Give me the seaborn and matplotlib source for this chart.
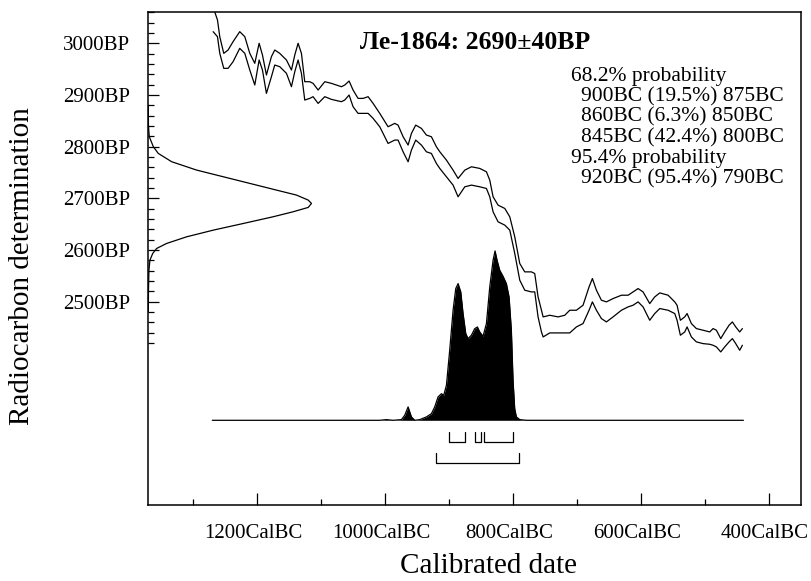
import numpy as np
import pandas as pd
import matplotlib
matplotlib.use("Agg")
import matplotlib.pyplot as plt
import matplotlib.transforms as mtransforms
from matplotlib.ticker import FixedLocator
import seaborn as sns

# ---------------- data ----------------
# calibration curve: calendar years BC with upper / lower radiocarbon bounds (BP)
curve_year_bc = [1268.7, 1261.9, 1258.3, 1252.1, 1245.3, 1237.5, 1227.1, 1219.2, 1211.4, 1203.6,
                 1196.8, 1191.6, 1185.4, 1177.6, 1172.4, 1164.6, 1154.1, 1146.3, 1141.1, 1135.9,
                 1130.7, 1125.5, 1117.7, 1112.5, 1104.6, 1094.2, 1083.8, 1068.2, 1063.0, 1056.2,
                 1050.0, 1042.2, 1034.3, 1026.5, 1018.7, 1008.3, 995.3, 984.9, 979.7, 971.8,
                 964.0, 958.8, 952.1, 943.2, 935.4, 927.6, 919.8,
                 914.5, 904.1, 893.7, 885.9, 875.4, 865.0, 852.0, 841.6, 836.4, 831.2,
                 823.4, 812.9, 805.1, 797.3, 789.5, 781.7, 771.3, 766.1, 760.9, 755.6,
                 753.0, 742.6, 729.6, 719.2, 711.4, 701.0, 690.6, 681.2, 676.0, 669.7,
                 661.9, 654.1, 643.7, 630.6, 620.2, 612.4, 604.6, 596.8, 586.4, 578.6,
                 570.7, 557.7, 547.3, 543.7, 538.5, 531.7, 528.0, 521.3, 513.5, 503.0,
                 492.6, 487.4, 482.2, 475.4, 469.2, 462.4, 457.2, 452.0, 445.8, 441.6]
curve_upper_bp = [3070.0, 3045.1, 3012.8, 2980.5, 2987.0, 3003.2, 3022.5, 3012.8, 2980.5, 2961.2,
                  3000.0, 2977.3, 2938.6, 2974.1, 2987.0, 2980.5, 2967.6, 2948.2, 2977.3, 3000.0,
                  2980.5, 2925.6, 2925.6, 2922.4, 2909.5, 2925.6, 2922.4, 2915.9, 2919.2, 2926.9,
                  2909.5, 2893.3, 2893.3, 2896.6, 2883.6, 2864.3, 2838.4, 2844.9, 2841.6, 2819.1,
                  2802.9, 2825.5, 2841.6, 2835.2, 2822.3, 2819.1, 2799.7,
                  2790.0, 2773.8, 2754.4, 2738.3, 2754.4, 2760.9, 2757.7, 2751.2, 2735.1, 2702.8,
                  2686.6, 2680.2, 2664.0, 2625.2, 2573.6, 2557.4, 2557.4, 2554.2, 2509.0, 2483.1,
                  2470.2, 2473.4, 2470.2, 2473.4, 2483.1, 2483.1, 2492.8, 2528.3, 2544.5, 2521.9,
                  2502.5, 2499.3, 2505.7, 2512.2, 2512.2, 2518.6, 2525.1, 2518.6, 2496.0, 2508.9,
                  2516.7, 2512.2, 2499.3, 2492.8, 2463.7, 2470.2, 2476.7, 2457.3, 2447.6, 2444.4,
                  2441.1, 2447.6, 2444.4, 2428.2, 2441.1, 2454.1, 2460.5, 2450.8, 2441.1, 2447.6]
curve_lower_bp = [3022.5, 3012.8, 2980.5, 2951.5, 2951.5, 2964.4, 2990.2, 2980.5, 2948.2, 2919.2,
                  2967.6, 2948.2, 2903.0, 2935.3, 2957.9, 2954.7, 2941.8, 2915.9, 2945.0, 2967.6,
                  2941.8, 2890.1, 2893.3, 2896.6, 2883.6, 2896.6, 2891.4, 2886.9, 2890.1, 2899.8,
                  2877.2, 2864.3, 2864.3, 2864.3, 2854.6, 2838.4, 2806.1, 2812.6, 2812.6, 2789.9,
                  2770.6, 2793.2, 2812.6, 2802.9, 2789.9, 2786.7, 2767.4,
                  2757.7, 2741.5, 2725.4, 2702.8, 2722.1, 2725.4, 2722.1, 2718.9, 2702.8, 2673.7,
                  2654.3, 2647.9, 2638.2, 2592.9, 2541.3, 2521.9, 2518.6, 2518.6, 2470.2, 2441.1,
                  2431.4, 2439.2, 2439.2, 2439.2, 2439.2, 2450.8, 2457.3, 2483.1, 2499.3, 2483.1,
                  2467.0, 2460.5, 2470.2, 2483.1, 2489.6, 2492.8, 2499.3, 2489.6, 2463.7, 2476.7,
                  2486.4, 2483.1, 2476.7, 2463.7, 2434.7, 2441.1, 2450.8, 2431.4, 2421.8, 2418.5,
                  2417.2, 2415.3, 2412.1, 2402.4, 2412.1, 2421.8, 2428.2, 2418.5, 2405.6, 2415.3]

# radiocarbon measurement distribution (relative density vs BP)
date_bp = [2880, 2840, 2819.1, 2799.7, 2786.8, 2770.7, 2754.5, 2741.6, 2728.7, 2715.7, 2706.1,
           2696.4, 2689.9, 2682.2, 2673.8, 2664.1, 2651.1, 2638.2, 2625.3, 2612.4,
           2602.7, 2593.0, 2580.1, 2560.7, 2520, 2480]
date_density = [0.0, 0.001, 0.006, 0.031, 0.061, 0.143, 0.296, 0.459, 0.622, 0.786, 0.908,
                0.980, 1.0, 0.980, 0.888, 0.765, 0.582, 0.398, 0.235, 0.112,
                0.051, 0.027, 0.010, 0.004, 0.001, 0.0]

# calibrated probability distribution (relative)
post_year_bc = [1270, 1008.3, 997.9, 987.5, 974.4, 969.2, 964.0, 958.8, 953.6, 945.8, 935.4,
                927.6, 922.4, 917.2, 911.9, 908.3, 904.1, 899.0, 893.7, 889.5, 885.9,
                881.7, 878.1, 873.9, 870.3, 865.1, 859.9, 855.7, 852.1, 846.9, 841.6,
                836.4, 831.2, 828.1, 825.0, 820.8, 815.6, 810.4, 806.2, 802.6, 800.0,
                797.4, 794.8, 789.5, 779.1, 440]
post_prob = [0.0, 0.0, 0.004, 0.0, 0.004, 0.030, 0.079, 0.020, 0.0, 0.004, 0.020,
             0.039, 0.079, 0.138, 0.157, 0.148, 0.207, 0.413, 0.650, 0.778, 0.807,
             0.758, 0.630, 0.512, 0.482, 0.502, 0.541, 0.551, 0.522, 0.496, 0.571,
             0.787, 0.945, 1.0, 0.945, 0.886, 0.850, 0.807, 0.728, 0.531, 0.236,
             0.069, 0.020, 0.004, 0.0, 0.0]

range68_from_bc = [900, 860, 845]
range68_to_bc = [875, 850, 800]
range95_from_bc = [920]
range95_to_bc = [790]

x_major_bc = [1200, 1000, 800, 600, 400]
x_minor_bc = [1300, 1100, 900, 700, 500]
y_major_bp = [2500, 2600, 2700, 2800, 2900, 3000]

title_text = "Ле-1864: 2690±40BP"
prob_lines = ["68.2% probability", "900BC (19.5%) 875BC", "860BC (6.3%) 850BC",
              "845BC (42.4%) 800BC", "95.4% probability", "920BC (95.4%) 790BC"]
prob_indent = [0, 1, 1, 1, 0, 1]

# ---------------- style ----------------
sns.set_theme(style="ticks")
plt.rcParams['font.family'] = ['Liberation Serif', 'DejaVu Serif']
plt.rcParams['text.color'] = 'black'

fig = plt.figure(figsize=(8.11, 5.81), dpi=100)
ax = fig.add_axes([148.3 / 811, 1 - 505 / 581, (801 - 148.3) / 811, (505 - 12.3) / 581])

XMIN, XMAX = -1370, -350
YMIN, YMAX = 2106, 3060

curve = pd.DataFrame({"x": [-v for v in curve_year_bc], "upper": curve_upper_bp, "lower": curve_lower_bp})
sns.lineplot(data=curve, x="x", y="upper", sort=False, estimator=None, color="black", lw=0.9, ax=ax)
sns.lineplot(data=curve, x="x", y="lower", sort=False, estimator=None, color="black", lw=0.9, ax=ax)

# measurement curve on the left axis
date_width = 255
dd = pd.DataFrame({"x": [XMIN + d * date_width for d in date_density], "y": date_bp})
sns.lineplot(data=dd, x="x", y="y", sort=False, estimator=None, color="black", lw=0.9, ax=ax)

# calibrated distribution
base = 2270
height = 328
px = np.array([-v for v in post_year_bc])
py = base + np.array(post_prob) * height
ax.fill_between(px, base, py, color="black", lw=0)
sns.lineplot(x=px, y=py, sort=False, estimator=None, color="black", lw=0.9, ax=ax)

# range brackets
def bracket(a, b, top, bot):
    ax.plot([-a, -a, -b, -b], [top, bot, bot, top], color="black", lw=0.9)

for a, b in zip(range68_from_bc, range68_to_bc):
    bracket(a, b, 2247, 2228)
for a, b in zip(range95_from_bc, range95_to_bc):
    bracket(a, b, 2207, 2187)

ax.set_xlim(XMIN, XMAX)
ax.set_ylim(YMIN, YMAX)
ax.set_xlabel("")
ax.set_ylabel("")

ax.xaxis.set_major_locator(FixedLocator([-v for v in x_major_bc]))
ax.xaxis.set_minor_locator(FixedLocator([-v for v in x_minor_bc]))
ax.set_xticklabels([f"{v}CalBC" for v in x_major_bc])
ax.yaxis.set_major_locator(FixedLocator(y_major_bp))
ax.yaxis.set_minor_locator(FixedLocator([v for v in range(2420, 3061, 20) if v not in y_major_bp]))
ax.set_yticklabels([f"{v}BP" for v in y_major_bp])

ax.tick_params(axis="both", which="both", direction="in", color="black", width=0.9,
               labelsize=15, labelcolor="black")
ax.tick_params(axis="y", which="major", length=8, pad=13)
ax.tick_params(axis="y", which="minor", length=4.3)
ax.tick_params(axis="x", which="major", length=8.6, pad=14)
ax.tick_params(axis="x", which="minor", length=4.3)
for s in ax.spines.values():
    s.set_visible(True)
    s.set_color("black")
    s.set_linewidth(1.1)

# x tick labels sit slightly left of their ticks in the reference
shift = mtransforms.ScaledTranslation(-4 / 100, 0, fig.dpi_scale_trans)
for lab in ax.get_xticklabels():
    lab.set_transform(lab.get_transform() + shift)

ax.text(0.50, 0.9397, title_text, transform=ax.transAxes, ha="center", va="center",
        fontsize=18.5, fontweight="bold")

line_y = [76, 96.5, 117, 137.5, 158, 178.5]
for txt, ind, yy in zip(prob_lines, prob_indent, line_y):
    xx = 571 if ind == 0 else 581
    fig.text(xx / 811, 1 - yy / 581, txt, ha="left", va="center", fontsize=15.5)

fig.text(489 / 811, 1 - 566 / 581, "Calibrated date", ha="center", va="center", fontsize=21)
fig.text(22 / 811, 1 - 266 / 581, "Radiocarbon determination", ha="center", va="center",
         fontsize=21, rotation=90)

fig.savefig("out.png", dpi=100)
